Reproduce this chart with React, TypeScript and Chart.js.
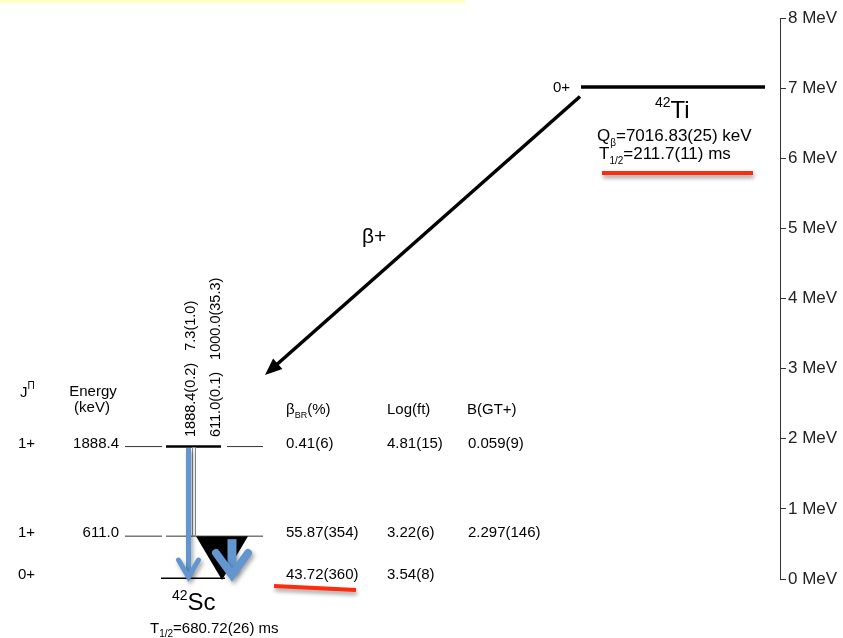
import React, { useEffect, useRef } from "react";
import { Chart, registerables } from "chart.js";

Chart.register(...registerables);

const FONT = "'Liberation Sans', Arial, Helvetica, sans-serif";

// ---- data: daughter 42Sc ----
const scLevelEnergies = [0, 611.0, 1888.4]; // keV
const scLevelSpins = ["0+", "1+", "1+"];
const scLevelLabels = ["", "611.0", "1888.4"];
const betaBranching = ["43.72(360)", "55.87(354)", "0.41(6)"];
const logFt = ["3.54(8)", "3.22(6)", "4.81(15)"];
const bGT = ["", "2.297(146)", "0.059(9)"];
const scHalfLife = "680.72(26) ms";

// ---- data: parent 42Ti ----
const parentEnergy = 7016.83; // keV (Q value)
const parentSpin = "0+";
const parentQ = "7016.83(25) keV";
const parentHalfLife = "211.7(11) ms";

// ---- data: gamma transitions ----
const gammaEnergies = ["1888.4(0.2)", "611.0(0.1)"];
const gammaIntensities = ["7.3(1.0)", "1000.0(35.3)"];
const gammaFrom = [1888.4, 611.0];
const gammaTo = [0, 0];

// ---- axis ----
const yTickValues = [0, 1, 2, 3, 4, 5, 6, 7, 8]; // MeV

// ---- layout (x in scale units, widths in px) ----
const levelSegments: number[][][] = [
  [[161, 225, 3]],
  [[125, 162, 1], [166, 263, 1]],
  [[125, 162, 1], [166, 221, 2.5], [227, 263, 1]],
];
const parentSegment = [581, 765, 3.5];

const BLUE = "#6396cf";
const RED = "#ff2b0a";

function rich(
  ctx: CanvasRenderingContext2D,
  parts: { t: string; size: number; dy?: number }[],
  x: number,
  y: number,
  align: "left" | "center" | "right" = "left"
) {
  let w = 0;
  for (const p of parts) {
    ctx.font = `${p.size}px ${FONT}`;
    w += ctx.measureText(p.t).width;
  }
  let cx = align === "left" ? x : align === "center" ? x - w / 2 : x - w;
  ctx.textAlign = "left";
  for (const p of parts) {
    ctx.font = `${p.size}px ${FONT}`;
    ctx.fillText(p.t, cx, y + (p.dy || 0));
    cx += ctx.measureText(p.t).width;
  }
}

const diagramPlugin = {
  id: "diagram",
  afterDatasetsDraw(chart: any) {
    const ctx: CanvasRenderingContext2D = chart.ctx;
    const xs = chart.scales.x;
    const ys = chart.scales.y;
    const X = (v: number) => xs.getPixelForValue(v);
    const Y = (keV: number) => ys.getPixelForValue(keV / 1000);
    ctx.save();

    // top yellow strip
    ctx.fillStyle = "#ffffc2";
    ctx.fillRect(0, 0, 465, 3);

    // weak transition outline 1888 -> 611
    ctx.strokeStyle = "#8a8a8a";
    ctx.lineWidth = 1;
    ctx.strokeRect(X(192) + 0.5, Y(1888.4) + 1, 3, Y(611.0) - Y(1888.4) - 1);

    // 611 gamma (intensity arrow, black)
    ctx.fillStyle = "#000";
    ctx.beginPath();
    ctx.moveTo(X(196), Y(gammaFrom[1]));
    ctx.lineTo(X(248), Y(gammaFrom[1]));
    ctx.lineTo(X(222), Y(gammaTo[1]) + 1);
    ctx.closePath();
    ctx.fill();

    // blue gamma arrows
    const blueArrow = (x: number, y0: number, y1: number, sw: number, hw: number, hl: number, lw: number) => {
      ctx.save();
      ctx.shadowColor = "rgba(0,0,0,0.35)";
      ctx.shadowBlur = 4;
      ctx.shadowOffsetX = 2;
      ctx.shadowOffsetY = 3;
      ctx.strokeStyle = BLUE;
      ctx.lineCap = "butt";
      ctx.lineWidth = sw;
      ctx.beginPath();
      ctx.moveTo(x, y0);
      ctx.lineTo(x, y1 - 3);
      ctx.stroke();
      ctx.lineCap = "round";
      ctx.lineJoin = "miter";
      ctx.lineWidth = lw;
      ctx.beginPath();
      ctx.moveTo(x - hw, y1 - hl);
      ctx.lineTo(x, y1);
      ctx.lineTo(x + hw, y1 - hl);
      ctx.stroke();
      ctx.restore();
    };
    blueArrow(X(188.5), Y(gammaFrom[0]) + 1.5, Y(gammaTo[0]) - 2, 5, 10, 17, 5);
    blueArrow(X(232), Y(gammaFrom[1]) + 3, Y(gammaTo[0]) - 4, 9, 16, 22, 8);

    // beta+ arrow
    const bx0 = X(580), by0 = ys.getPixelForValue(6.88);
    const bx1 = X(265), by1 = ys.getPixelForValue(2.91);
    const dx = bx1 - bx0, dy = by1 - by0;
    const len = Math.hypot(dx, dy);
    const ux = dx / len, uy = dy / len;
    const hl = 17, hw = 7;
    ctx.strokeStyle = "#000";
    ctx.lineWidth = 3.5;
    ctx.lineCap = "butt";
    ctx.beginPath();
    ctx.moveTo(bx0, by0);
    ctx.lineTo(bx1 - ux * (hl - 2), by1 - uy * (hl - 2));
    ctx.stroke();
    ctx.fillStyle = "#000";
    ctx.beginPath();
    ctx.moveTo(bx1, by1);
    ctx.lineTo(bx1 - ux * hl - uy * hw, by1 - uy * hl + ux * hw);
    ctx.lineTo(bx1 - ux * hl + uy * hw, by1 - uy * hl - ux * hw);
    ctx.closePath();
    ctx.fill();

    // red underlines
    ctx.save();
    ctx.shadowColor = "rgba(0,0,0,0.4)";
    ctx.shadowBlur = 4;
    ctx.shadowOffsetX = 1;
    ctx.shadowOffsetY = 3;
    ctx.strokeStyle = RED;
    ctx.lineWidth = 4;
    ctx.beginPath();
    ctx.moveTo(602, 173);
    ctx.lineTo(753, 173);
    ctx.stroke();
    ctx.beginPath();
    ctx.moveTo(274, 586);
    ctx.lineTo(356, 590);
    ctx.stroke();
    ctx.restore();

    // ---- text ----
    ctx.fillStyle = "#000";
    ctx.textBaseline = "alphabetic";

    // headers
    rich(ctx, [{ t: "J", size: 15 }, { t: "\u03A0", size: 10, dy: -8 }], 20, 397);
    ctx.font = `15px ${FONT}`;
    ctx.textAlign = "center";
    ctx.fillText("Energy", 93, 396);
    ctx.fillText("(keV)", 92, 412);
    rich(ctx, [{ t: "\u03B2", size: 15 }, { t: "BR", size: 9, dy: 4 }, { t: "(%)", size: 15 }], 286, 414);
    ctx.font = `15px ${FONT}`;
    ctx.textAlign = "left";
    ctx.fillText("Log(ft)", 387, 414);
    ctx.fillText("B(GT+)", 467, 414);

    // level rows
    for (let i = 0; i < scLevelEnergies.length; i++) {
      const y = Y(scLevelEnergies[i]) + (i === 0 ? 0 : 1);
      ctx.font = `15px ${FONT}`;
      ctx.textAlign = "left";
      ctx.fillText(scLevelSpins[i], 18, y);
      if (scLevelLabels[i]) {
        ctx.textAlign = "right";
        ctx.fillText(scLevelLabels[i], 119, y);
      }
      ctx.textAlign = "left";
      ctx.fillText(betaBranching[i], 286, y);
      ctx.fillText(logFt[i], 387, y);
      if (bGT[i]) ctx.fillText(bGT[i], 468, y);
    }

    // gamma labels (vertical)
    const gx = [195, 220];
    for (let g = 0; g < gammaEnergies.length; g++) {
      ctx.save();
      ctx.translate(gx[g], 437);
      ctx.rotate(-Math.PI / 2);
      ctx.font = `14.5px ${FONT}`;
      ctx.textAlign = "left";
      ctx.fillText(gammaEnergies[g] + "   " + gammaIntensities[g], 0, 0);
      ctx.restore();
    }

    // beta+ label
    ctx.font = `21px ${FONT}`;
    ctx.textAlign = "left";
    ctx.fillText("\u03B2+", 362, 243);

    // parent
    ctx.font = `15px ${FONT}`;
    ctx.textAlign = "right";
    ctx.fillText(parentSpin, 570, Y(parentEnergy) + 5);
    rich(ctx, [{ t: "42", size: 14, dy: -11 }, { t: "Ti", size: 24 }], 655, 118);
    rich(ctx, [{ t: "Q", size: 17 }, { t: "\u03B2", size: 10, dy: 5 }, { t: "=" + parentQ, size: 17 }], 597, 141);
    rich(ctx, [{ t: "T", size: 17 }, { t: "1/2", size: 10, dy: 5 }, { t: "=" + parentHalfLife, size: 17 }], 599, 159);

    // daughter
    rich(ctx, [{ t: "42", size: 14, dy: -10 }, { t: "Sc", size: 24 }], 172, 610);
    rich(ctx, [{ t: "T", size: 15 }, { t: "1/2", size: 10, dy: 4 }, { t: "=" + scHalfLife, size: 15 }], 150, 633);

    ctx.restore();
  },
};

export default function App() {
  const ref = useRef<HTMLCanvasElement | null>(null);
  useEffect(() => {
    if (!ref.current) return;
    const datasets: any[] = [];
    levelSegments.forEach((segs, i) => {
      segs.forEach((s) => {
        datasets.push({
          data: [
            { x: s[0], y: scLevelEnergies[i] / 1000 },
            { x: s[1], y: scLevelEnergies[i] / 1000 },
          ],
          borderColor: s[2] > 1.5 ? "#000" : "#333",
          borderWidth: s[2],
          showLine: true,
          pointRadius: 0,
        });
      });
    });
    datasets.push({
      data: [
        { x: parentSegment[0], y: parentEnergy / 1000 },
        { x: parentSegment[1], y: parentEnergy / 1000 },
      ],
      borderColor: "#000",
      borderWidth: parentSegment[2],
      showLine: true,
      pointRadius: 0,
    });

    const chart = new Chart(ref.current, {
      type: "scatter",
      data: { datasets },
      options: {
        animation: false,
        responsive: false,
        layout: { padding: { left: 0, right: 0, top: 18, bottom: 59 } },
        plugins: { legend: { display: false }, tooltip: { enabled: false } },
        scales: {
          x: { type: "linear", min: 0, max: 780, display: false },
          y: {
            type: "linear",
            position: "right",
            min: yTickValues[0],
            max: yTickValues[yTickValues.length - 1],
            afterBuildTicks: (s: any) => {
              s.ticks = yTickValues.map((v) => ({ value: v }));
            },
            afterFit: (s: any) => {
              s.width = 63;
            },
            ticks: {
              callback: (v: any) => `${v} MeV`,
              color: "#222",
              font: { family: FONT, size: 17 },
              padding: 2,
            },
            grid: { drawOnChartArea: false, drawTicks: true, tickLength: 6, color: "#333", lineWidth: 1 },
            border: { display: true, color: "#333", width: 1 },
          },
        },
      },
      plugins: [diagramPlugin],
    });
    return () => chart.destroy();
  }, []);
  return (
    <div style={{ position: "absolute", left: 0, top: 0, width: 843, height: 638, background: "#fff" }}>
      <canvas ref={ref} width={843} height={638} style={{ display: "block" }} />
    </div>
  );
}
